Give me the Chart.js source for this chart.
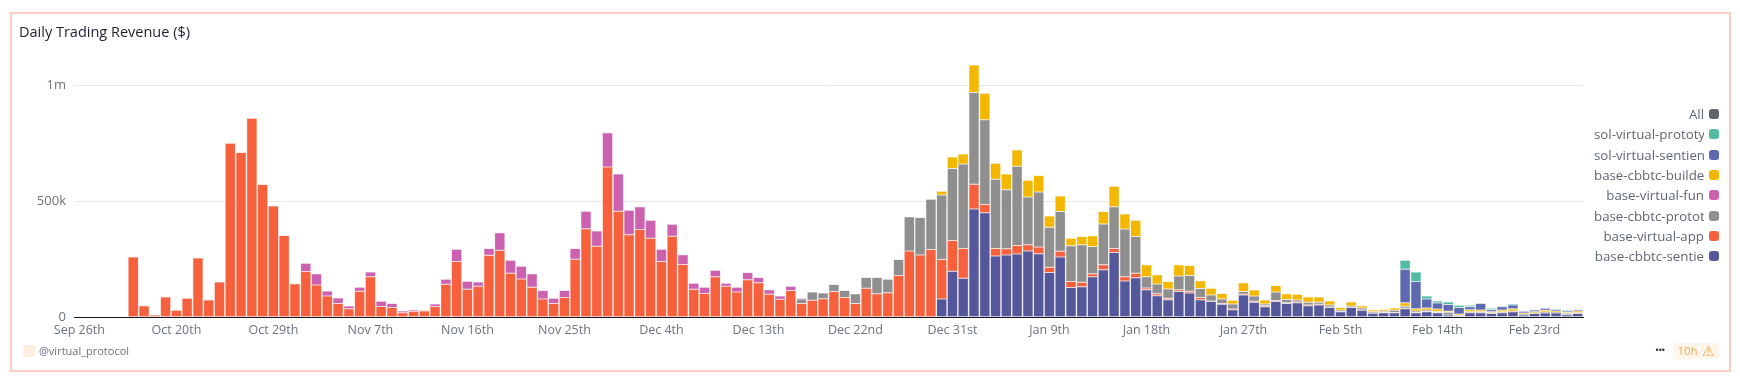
<!DOCTYPE html>
<html>
<head>
<meta charset="utf-8">
<script src="https://cdn.jsdelivr.net/npm/chart.js@4"></script>
<style>
html,body{margin:0;padding:0;background:#fff;width:1740px;height:379px;overflow:hidden;font-family:"Open Sans",sans-serif}
#frame{position:absolute;left:10px;top:12px;width:1717px;height:356px;border:2px solid #fdccc3}
#title{position:absolute;left:19px;top:22px;font-size:14.5px;font-weight:500;color:#1b2130;line-height:20px}
#wrap{position:absolute;left:0;top:0;width:1740px;height:379px}
#legend{position:absolute;left:1560px;top:104px;width:159px;font-size:13.3px;color:#5f6675}
.row{display:flex;justify-content:flex-end;align-items:center;height:20.3px}
.name{max-width:110px;overflow:hidden;white-space:nowrap}
.sw{flex:none;width:10px;height:10px;border-radius:3px;margin-left:5px}
#owner{position:absolute;left:23px;top:345px;width:12px;height:12px;border-radius:3px;background:#fdeedd}
#ownerText{position:absolute;left:39px;top:344px;font-size:11px;line-height:14px;color:#6b7280}
#dots{position:absolute;left:1655px;top:342px;font-size:11px;line-height:16px;color:#333;letter-spacing:-1px}
#age{position:absolute;left:1673px;top:343px;width:46px;height:16px;border-radius:3px;background:#fff5ea;color:#f5a742;font-size:11.5px;line-height:16px;display:flex;justify-content:center;gap:4px}
#age span{font-size:14px}
</style>
</head>
<body>
<div id="frame"></div>
<div id="wrap"><canvas id="myChart" width="1740" height="379"></canvas></div>
<div id="title">Daily Trading Revenue ($)</div>
<div id="legend"></div>
<div id="owner"></div>
<div id="ownerText">@virtual_protocol</div>
<div id="dots">•••</div>
<div id="age">10h <span>⚠</span></div>
<script>
const categories = ['Sep 26th',
'Oct 12th','Oct 13th','Oct 14th','Oct 15th','Oct 16th','Oct 17th','Oct 18th','Oct 19th','Oct 20th','Oct 21st','Oct 22nd','Oct 23rd','Oct 24th','Oct 25th','Oct 26th','Oct 27th','Oct 28th','Oct 29th','Oct 30th','Oct 31st',
'Nov 1st','Nov 2nd','Nov 3rd','Nov 4th','Nov 5th','Nov 6th','Nov 7th','Nov 8th','Nov 9th','Nov 10th','Nov 11th','Nov 12th','Nov 13th','Nov 14th','Nov 15th','Nov 16th','Nov 17th','Nov 18th','Nov 19th','Nov 20th','Nov 21st','Nov 22nd','Nov 23rd','Nov 24th','Nov 25th','Nov 26th','Nov 27th','Nov 28th','Nov 29th','Nov 30th',
'Dec 1st','Dec 2nd','Dec 3rd','Dec 4th','Dec 5th','Dec 6th','Dec 7th','Dec 8th','Dec 9th','Dec 10th','Dec 11th','Dec 12th','Dec 13th','Dec 14th','Dec 15th','Dec 16th','Dec 17th','Dec 18th','Dec 19th','Dec 20th','Dec 21st','Dec 22nd','Dec 23rd','Dec 24th','Dec 25th','Dec 26th','Dec 27th','Dec 28th','Dec 29th','Dec 30th','Dec 31st',
'Jan 1st','Jan 2nd','Jan 3rd','Jan 4th','Jan 5th','Jan 6th','Jan 7th','Jan 8th','Jan 9th','Jan 10th','Jan 11th','Jan 12th','Jan 13th','Jan 14th','Jan 15th','Jan 16th','Jan 17th','Jan 18th','Jan 19th','Jan 20th','Jan 21st','Jan 22nd','Jan 23rd','Jan 24th','Jan 25th','Jan 26th','Jan 27th','Jan 28th','Jan 29th','Jan 30th','Jan 31st',
'Feb 1st','Feb 2nd','Feb 3rd','Feb 4th','Feb 5th','Feb 6th','Feb 7th','Feb 8th','Feb 9th','Feb 10th','Feb 11th','Feb 12th','Feb 13th','Feb 14th','Feb 15th','Feb 16th','Feb 17th','Feb 18th','Feb 19th','Feb 20th','Feb 21st','Feb 22nd','Feb 23rd','Feb 24th','Feb 25th','Feb 26th','Feb 27th'];
const tickLabels = ['Sep 26th','Oct 20th','Oct 29th','Nov 7th','Nov 16th','Nov 25th','Dec 4th','Dec 13th','Dec 22nd','Dec 31st','Jan 9th','Jan 18th','Jan 27th','Feb 5th','Feb 14th','Feb 23rd'];
// y values are in $ thousands
const yTickValues = [0,500,1000];
const yTickLabels = ['0','500k','1m'];

const cbbtcSentient = [0,0,0,0,0,0,0,0,0,0,0,0,0,0,0,0,0,0,0,0,0,0,0,0,0,0,0,0,0,0,0,0,0,0,0,0,0,0,0,0,0,0,0,0,0,0,0,0,0,0,0,0,0,0,0,0,0,0,0,0,0,0,0,0,0,0,0,0,0,0,0,0,0,0,0,0,0,0,0,0,
79,198,168,467,451,264,269,273,286,274,193,260,128,132,175,205,279,157,171,119,93,76,111,105,76,68,56,33,96,65,45,68,60,63,50,53,42,24,42,30,17,20,20,37,20,24,20,10,4,20,20,16,20,24,10,16,19,19,11,16];
const virtualApp = [0,0,0,0,0,
260,50,10,88,30,82,256,75,152,750,710,858,572,480,353,145,197,139,92,60,37,112,175,47,42,20,26,27,47,142,241,121,134,267,289,
190,165,129,79,60,85,250,382,306,648,457,356,378,341,241,349,228,121,103,175,134,109,162,149,99,78,115,59,73,80,111,85,59,125,102,106,180,286,269,292,
170,133,129,106,35,33,26,36,27,29,23,25,26,19,13,22,18,18,19,7,8,6,8,7,9,2,4,3,3,4,5,4,3,3,3,3,2,1,1,1,1,1,1,2,1,1,1,0,0,0,0,0,0,0,0,0,0,0,0,0];
const cbbtcProto = [0,0,0,0,0,0,0,0,0,0,0,0,0,0,0,0,0,0,0,0,0,0,0,0,0,0,0,0,0,0,0,0,0,0,0,0,0,0,0,0,0,0,0,0,0,0,0,0,0,0,0,0,0,0,0,0,0,0,0,0,0,0,0,0,0,0,0,
20,36,25,30,30,43,47,70,58,69,147,161,217,278,310,364,396,366,298,255,342,206,237,172,171,154,162,117,175,180,206,158,49,43,40,59,68,39,26,19,21,12,23,7,37,14,9,12,9,9,7,6,9,6,5,9,9,6,7,4,12,5,4,4,4,4,3,4,3,4,4,6,4];
const virtualFun = [0,0,0,0,0,0,0,0,0,0,0,0,0,0,0,0,0,0,0,0,0,
36,49,21,23,12,17,20,22,18,7,6,3,10,22,52,34,18,30,75,
56,55,59,36,22,31,47,75,66,147,161,105,98,77,52,52,42,26,26,28,13,20,31,23,20,14,19,3];
const cbbtcBuilder = [0,0,0,0,0,0,0,0,0,0,0,0,0,0,0,0,0,0,0,0,0,0,0,0,0,0,0,0,0,0,0,0,0,0,0,0,0,0,0,0,0,0,0,0,0,0,0,0,0,0,0,0,0,0,0,0,0,0,0,0,0,0,0,0,0,0,0,0,0,0,0,0,0,0,0,0,0,0,0,0,
16,50,43,119,114,69,68,70,72,71,49,67,33,35,46,54,88,64,70,51,39,32,48,43,34,29,24,16,38,26,18,28,25,24,23,23,17,10,17,10,8,8,10,15,10,8,11,4,5,9,8,4,8,10,5,5,7,4,5,7];
const solSentient = [0,0,0,0,0,0,0,0,0,0,0,0,0,0,0,0,0,0,0,0,0,0,0,0,0,0,0,0,0,0,0,0,0,0,0,0,0,0,0,0,0,0,0,0,0,0,0,0,0,0,0,0,0,0,0,0,0,0,0,0,0,0,0,0,0,0,0,0,0,0,0,0,0,0,0,0,0,0,0,0,0,0,0,0,0,0,0,0,0,0,0,0,0,0,0,0,0,0,0,0,0,0,0,0,0,0,0,0,0,0,0,0,0,0,0,0,0,0,0,0,0,0,0,
144,117,39,26,29,28,13,27,9,13,16,7,8,9,7,5,5];
const solProto = [0,0,0,0,0,0,0,0,0,0,0,0,0,0,0,0,0,0,0,0,0,0,0,0,0,0,0,0,0,0,0,0,0,0,0,0,0,0,0,0,0,0,0,0,0,0,0,0,0,0,0,0,0,0,0,0,0,0,0,0,0,0,0,0,0,0,0,0,0,0,0,0,0,0,0,0,0,0,0,0,0,0,0,0,0,0,0,0,0,0,0,0,0,0,0,0,0,0,0,0,0,0,0,0,0,0,0,0,0,0,0,0,0,0,0,0,0,0,0,0,0,0,0,
39,41,13,8,11,10,6,3,6,4,4,2,1,2,3,3,2];

// stacking order, bottom first
const series = [
  {label:'base-cbbtc-sentie', data:cbbtcSentient, color:'85,87,155'},
  {label:'base-virtual-app', data:virtualApp, color:'246,96,60'},
  {label:'base-cbbtc-protot', data:cbbtcProto, color:'143,143,143'},
  {label:'base-virtual-fun', data:virtualFun, color:'204,97,176'},
  {label:'base-cbbtc-builde', data:cbbtcBuilder, color:'244,183,0'},
  {label:'sol-virtual-sentien', data:solSentient, color:'93,105,177'},
  {label:'sol-virtual-prototy', data:solProto, color:'82,188,163'}
];

const legendEl = document.getElementById('legend');
[{label:'All',color:'95,99,107'}].concat(series.slice().reverse()).forEach(s => {
  const row = document.createElement('div');
  row.className = 'row';
  row.innerHTML = '<span class="name">'+s.label+'</span><span class="sw" style="background:rgb('+s.color+')"></span>';
  legendEl.appendChild(row);
});

Chart.defaults.font.family = '"Open Sans", sans-serif';
new Chart(document.getElementById('myChart'), {
  type:'bar',
  data:{
    labels:categories,
    datasets:series.map(s => ({
      label:s.label,
      data:s.data,
      backgroundColor:'rgb('+s.color+')',
      borderColor:'rgba('+s.color+',0.5)',
      borderWidth:0.5,
      borderSkipped:false,
      barPercentage:0.96,
      categoryPercentage:1
    }))
  },
  options:{
    responsive:false,
    animation:false,
    layout:{padding:{top:50.5,right:157,left:0,bottom:0}},
    plugins:{legend:{display:false},tooltip:{enabled:false}},
    scales:{
      x:{
        stacked:true,
        afterFit:scale => { scale.height = 61.7; },
        grid:{display:false,drawTicks:false},
        border:{display:true,color:'#15181f',width:1},
        ticks:{
          autoSkip:false,maxRotation:0,padding:6,color:'#6b7280',font:{size:12.5},
          callback:function(v,i){ return tickLabels.includes(categories[i]) ? categories[i] : ''; }
        }
      },
      y:{
        stacked:true,
        min:0,
        max:1150,
        afterFit:scale => { scale.width = 74; },
        afterBuildTicks:scale => { scale.ticks = yTickValues.map(value => ({value})); },
        grid:{color:'#e8e8e8',drawTicks:false},
        border:{display:false},
        ticks:{
          padding:8,color:'#6b7280',font:{size:13},
          callback:function(v){ return yTickLabels[yTickValues.indexOf(v)]; }
        }
      }
    }
  }
});
</script>
</body>
</html>
